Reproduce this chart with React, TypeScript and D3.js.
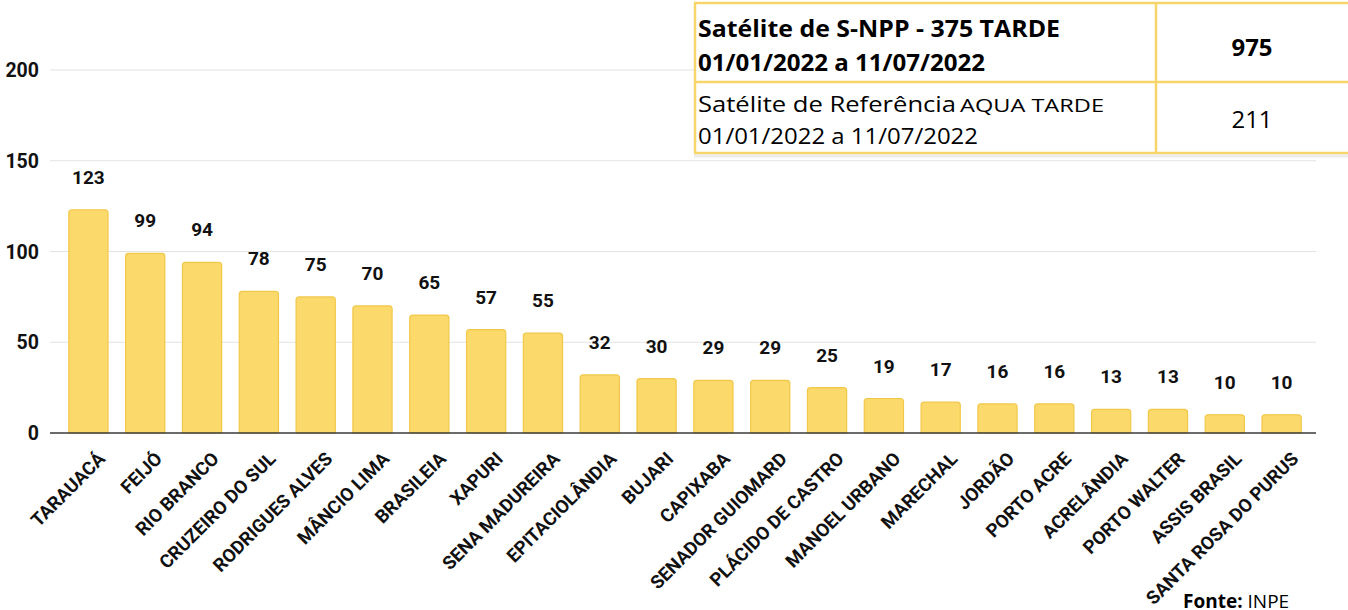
import React from "react";
import * as d3 from "d3";

const categories = [
  "TARAUACÁ", "FEIJÓ", "RIO BRANCO", "CRUZEIRO DO SUL", "RODRIGUES ALVES",
  "MÂNCIO LIMA", "BRASILEIA", "XAPURI", "SENA MADUREIRA", "EPITACIOLÂNDIA",
  "BUJARI", "CAPIXABA", "SENADOR GUIOMARD", "PLÁCIDO DE CASTRO", "MANOEL URBANO",
  "MARECHAL", "JORDÃO", "PORTO ACRE", "ACRELÂNDIA", "PORTO WALTER",
  "ASSIS BRASIL", "SANTA ROSA DO PURUS",
];
const values = [123, 99, 94, 78, 75, 70, 65, 57, 55, 32, 30, 29, 29, 25, 19, 17, 16, 16, 13, 13, 10, 10];
const yTicks = [0, 50, 100, 150, 200];

const tableRow1 = ["Satélite de S-NPP - 375 TARDE", "01/01/2022 a 11/07/2022"];
const tableRow1Value = "975";
const tableRow2a = "Satélite de Referência";
const tableRow2b = "AQUA TARDE";
const tableRow2Date = "01/01/2022 a 11/07/2022";
const tableRow2Value = "211";

const W = 1348;
const H = 610;

export default function App() {
  const x = d3.scaleBand<string>()
    .domain(categories)
    .range([60, 1310])
    .paddingInner(0.31)
    .paddingOuter(0.155);
  const y = d3.scaleLinear().domain([0, 200]).range([433, 70]);
  const gridX0 = 50;
  const gridX1 = 1316;
  const barFont = "Roboto, 'DejaVu Sans', sans-serif";
  const tableFont = "'Open Sans', 'Liberation Sans', sans-serif";

  return (
    <svg width={W} height={H} style={{ position: "absolute", left: 0, top: 0, background: "#fff" }}>
      <rect x={0} y={0} width={W} height={H} fill="#fff" />
      {yTicks.map((t) => (
        <g key={t}>
          {t !== 0 && (
            <line x1={gridX0} x2={gridX1} y1={y(t)} y2={y(t)} stroke="#e3e3e3" strokeWidth={1} />
          )}
          <text x={39} y={y(t)} dy="0.36em" textAnchor="end" fontFamily={barFont}
            fontWeight={700} fontSize={19.5} fill="#111">{t}</text>
        </g>
      ))}
      {categories.map((c, i) => {
        const bx = x(c)!;
        const bw = x.bandwidth();
        const top = y(values[i]);
        const cx = bx + bw / 2;
        return (
          <g key={c}>
            <path
              d={`M${bx},${y(0)} V${top + 3} Q${bx},${top} ${bx + 3},${top} H${bx + bw - 3} Q${bx + bw},${top} ${bx + bw},${top + 3} V${y(0)} Z`}
              fill="#fcd96b" stroke="#f1c84a" strokeWidth={1.2} />
            <text x={cx} y={top - 26} textAnchor="middle" fontFamily={barFont}
              fontWeight={700} fontSize={19} fill="#111">{values[i]}</text>
            <text transform={`translate(${cx + 18},${y(0) + 27}) rotate(-45)`}
              textAnchor="end" fontFamily={barFont} fontWeight={700} fontSize={18.5}
              fill="#111">{c}</text>
          </g>
        );
      })}
      <line x1={gridX0} x2={gridX1} y1={y(0)} y2={y(0)} stroke="#3a3a3a" strokeWidth={1.5} />

      {/* table */}
      <rect x={694} y={3} width={670} height={151} fill="#fff" />
      <line x1={694} x2={1348} y1={156} y2={156} stroke="#ececec" strokeWidth={3} />
      <g stroke="#f7d56a" strokeWidth={2.5} fill="none">
        <line x1={694} x2={1348} y1={3} y2={3} />
        <line x1={694} x2={1348} y1={82} y2={82} />
        <line x1={694} x2={1348} y1={153} y2={153} />
        <line x1={695} x2={695} y1={3} y2={153} />
        <line x1={1156} x2={1156} y1={3} y2={153} />
      </g>
      <text x={698} y={37} fontFamily={tableFont} fontWeight={700} fontSize={23}
        textLength={362} lengthAdjust="spacingAndGlyphs" fill="#000">{tableRow1[0]}</text>
      <text x={698} y={71} fontFamily={tableFont} fontWeight={700} fontSize={23}
        textLength={287} lengthAdjust="spacingAndGlyphs" fill="#000">{tableRow1[1]}</text>
      <text x={1252} y={48} dy="0.36em" textAnchor="middle" fontFamily={tableFont} fontWeight={700}
        fontSize={23} textLength={41} lengthAdjust="spacingAndGlyphs" fill="#000">{tableRow1Value}</text>
      <text x={698} y={112} fontFamily={tableFont} fontSize={22}
        textLength={258} lengthAdjust="spacingAndGlyphs" fill="#000">{tableRow2a}</text>
      <text x={960} y={112} fontFamily={tableFont} fontSize={19}
        textLength={144} lengthAdjust="spacingAndGlyphs" fill="#000">{tableRow2b}</text>
      <text x={698} y={144} fontFamily={tableFont} fontSize={22}
        textLength={280} lengthAdjust="spacingAndGlyphs" fill="#000">{tableRow2Date}</text>
      <text x={1252} y={120} dy="0.36em" textAnchor="middle" fontFamily={tableFont}
        fontSize={23} textLength={41} lengthAdjust="spacingAndGlyphs" fill="#000">{tableRow2Value}</text>

      <text x={1183} y={608} fontFamily={tableFont} fontSize={19} fill="#000">
        <tspan fontWeight={700}>Fonte:</tspan> INPE
      </text>
    </svg>
  );
}
